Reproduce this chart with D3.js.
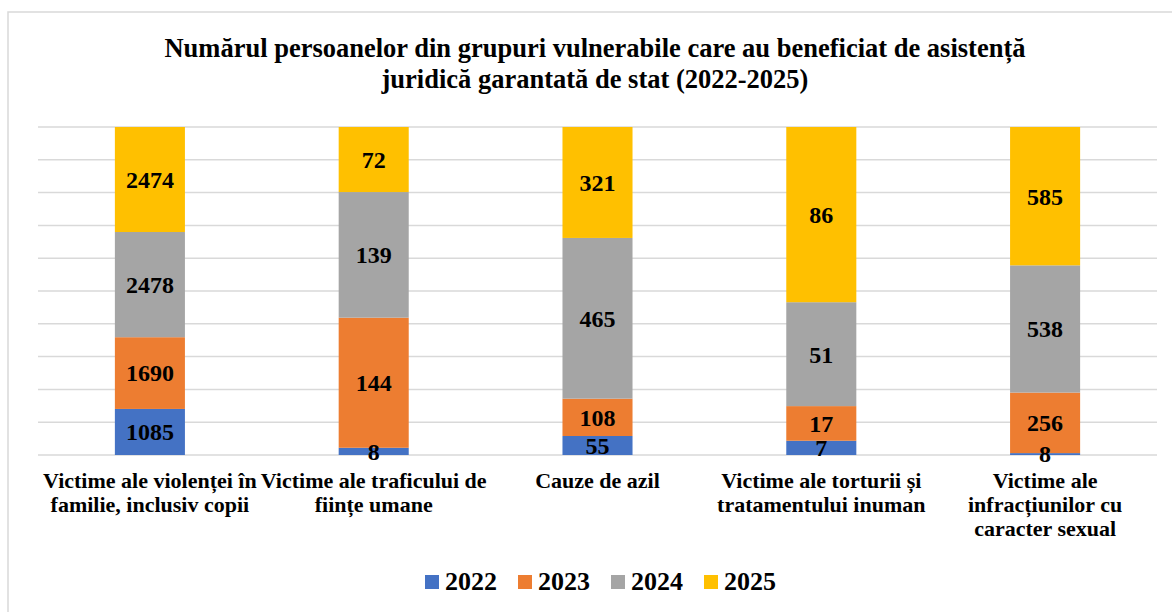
<!DOCTYPE html>
<html>
<head>
<meta charset="utf-8">
<script src="https://cdn.jsdelivr.net/npm/d3@7"></script>
<style>
  body { margin: 0; background: #fff; }
  text { font-family: "Liberation Serif", "Times New Roman", serif; font-weight: bold; fill: #000; }
</style>
</head>
<body>
<script>
// categories (pre-split into lines, like the Excel wrap)
const categories = [
  ["Victime ale violenței în", "familie, inclusiv copii"],
  ["Victime ale traficului de", "ființe umane"],
  ["Cauze de azil"],
  ["Victime ale torturii și", "tratamentului inuman"],
  ["Victime ale", "infracțiunilor cu", "caracter sexual"]
];
const years = ["2022", "2023", "2024", "2025"];
const v2022 = [1085, 8, 55, 7, 8];
const v2023 = [1690, 144, 108, 17, 256];
const v2024 = [2478, 139, 465, 51, 538];
const v2025 = [2474, 72, 321, 86, 585];
const colors = ["#4472c4", "#ed7d31", "#a5a5a5", "#ffc000"];

const width = 1172, height = 612;
const margin = { top: 127, right: 15, bottom: 157, left: 38 };

const svg = d3.select("body")
  .append("svg")
  .attr("width", width)
  .attr("height", height);

// chart frame
svg.append("rect")
  .attr("x", 8)
  .attr("y", 12)
  .attr("width", 1180)
  .attr("height", 620)
  .attr("fill", "#fff")
  .attr("stroke", "#d9d9d9")
  .attr("stroke-width", 1.5);

// title
const title = svg.append("text")
  .attr("text-anchor", "middle")
  .style("font-size", "26.5px");
title.append("tspan").attr("x", 595).attr("y", 57)
  .text("Numărul persoanelor din grupuri vulnerabile care au beneficiat de asistență");
title.append("tspan").attr("x", 595).attr("y", 88)
  .text("juridică garantată de stat (2022-2025)");

// build table for stacking (percent)
const table = categories.map((c, i) => {
  const row = { idx: i, "2022": v2022[i], "2023": v2023[i], "2024": v2024[i], "2025": v2025[i] };
  return row;
});
const stacked = d3.stack().keys(years).offset(d3.stackOffsetExpand)(table);

const x = d3.scaleBand()
  .domain(d3.range(categories.length))
  .range([margin.left, width - margin.right])
  .paddingInner(0.687)
  .paddingOuter(0.3435);

const y = d3.scaleLinear()
  .domain([0, 1])
  .range([height - margin.bottom, margin.top]);

// gridlines
svg.append("g")
  .selectAll("line")
  .data(y.ticks(10))
  .join("line")
  .attr("x1", margin.left)
  .attr("x2", width - margin.right)
  .attr("y1", d => y(d))
  .attr("y2", d => y(d))
  .attr("stroke", "#d9d9d9")
  .attr("stroke-width", 1.5);

// bars
const layers = svg.append("g")
  .selectAll("g")
  .data(stacked)
  .join("g")
  .attr("fill", (d, i) => colors[i]);

layers.selectAll("rect")
  .data(d => d)
  .join("rect")
  .attr("x", (d, i) => x(i))
  .attr("width", x.bandwidth())
  .attr("y", d => y(d[1]))
  .attr("height", d => y(d[0]) - y(d[1]));

// data labels
stacked.forEach((layer, li) => {
  svg.append("g")
    .selectAll("text")
    .data(layer)
    .join("text")
    .attr("x", (d, i) => x(i) + x.bandwidth() / 2)
    .attr("y", d => (y(d[0]) + y(d[1])) / 2)
    .attr("dy", "0.35em")
    .attr("text-anchor", "middle")
    .style("font-size", "24px")
    .text(d => d.data[years[li]]);
});

// category labels
const cat = svg.append("g")
  .selectAll("text")
  .data(categories)
  .join("text")
  .attr("text-anchor", "middle")
  .style("font-size", "22px");
cat.each(function(lines, i) {
  d3.select(this).selectAll("tspan")
    .data(lines)
    .join("tspan")
    .attr("x", x(i) + x.bandwidth() / 2)
    .attr("y", (d, j) => 488 + j * 24)
    .text(d => d);
});

// legend
const legend = svg.append("g")
  .selectAll("g")
  .data(years)
  .join("g")
  .attr("transform", (d, i) => `translate(${425 + i * 93},0)`);
legend.append("rect")
  .attr("x", 0)
  .attr("y", 575)
  .attr("width", 14)
  .attr("height", 14)
  .attr("fill", (d, i) => colors[i]);
legend.append("text")
  .attr("x", 20)
  .attr("y", 590)
  .style("font-size", "26px")
  .text(d => d);
</script>
</body>
</html>
